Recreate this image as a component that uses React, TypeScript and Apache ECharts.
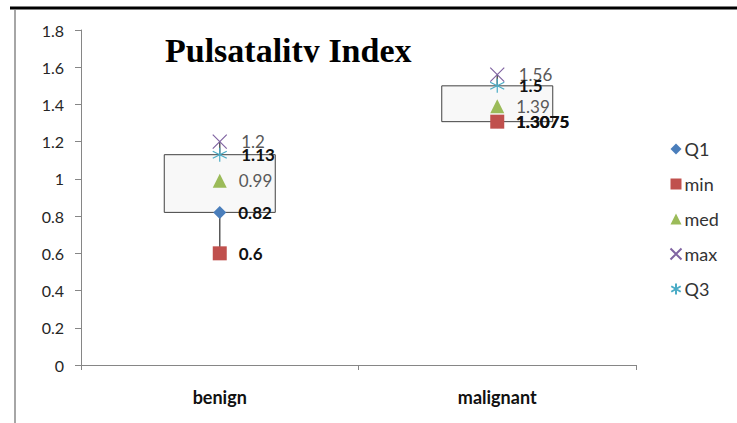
import React, { useEffect, useRef } from "react";
import * as echarts from "echarts";

const categories = ["benign", "malignant"];
const q1Values = [0.82, 1.3075];
const minValues = [0.6, 1.3075];
const medValues = [0.99, 1.39];
const maxValues = [1.2, 1.56];
const q3Values = [1.13, 1.5];
const yTicks = [0, 0.2, 0.4, 0.6, 0.8, 1, 1.2, 1.4, 1.6, 1.8];

const FONT = "Lato, 'Open Sans', sans-serif";

export default function App() {
  const ref = useRef<HTMLDivElement>(null);
  useEffect(() => {
    if (!ref.current) return;
    const chart = echarts.init(ref.current, null, { renderer: "svg" });
    const boldLabel = {
      show: true,
      position: "right",
      distance: 12,
      color: "#111",
      fontWeight: "bold",
      fontSize: 17,
      fontFamily: FONT,
    };
    const grayLabel = {
      show: true,
      position: "right",
      distance: 12,
      color: "#595959",
      fontSize: 17,
      fontFamily: FONT,
    };
    const boxData = categories.map((c, i) => [i, minValues[i], q1Values[i], q3Values[i], maxValues[i]]);
    const option: any = {
      animation: false,
      backgroundColor: "#fff",
      grid: { left: 81, right: 101, top: 30, bottom: 58 },
      legend: {
        orient: "vertical",
        left: 663,
        top: 135,
        itemGap: 17,
        itemWidth: 11,
        itemHeight: 11,
        textStyle: { fontFamily: FONT, fontSize: 18, color: "#333", padding: [0, 0, 0, -2] },
        data: ["Q1", "min", "med", "max", "Q3"],
      },
      graphic: [
        { type: "line", shape: { x1: 10, y1: 8, x2: 737, y2: 8 }, style: { stroke: "#000", lineWidth: 3 } },
        { type: "line", shape: { x1: 15, y1: 10, x2: 15, y2: 423 }, style: { stroke: "#a6a6a6", lineWidth: 2 } },
        {
          type: "text",
          left: 165,
          top: 33,
          style: {
            text: "Pulsatality Index",
            font: "bold 34px 'Liberation Serif', 'Times New Roman', serif",
            fill: "#000",
          },
        },
        {
          type: "rect",
          shape: { x: 160, y: 62.5, width: 260, height: 8 },
          style: { fill: "#fff" },
        },
      ],
      xAxis: {
        type: "category",
        data: categories,
        boundaryGap: true,
        axisLine: { lineStyle: { color: "#868686" } },
        axisTick: { show: true, length: 5, lineStyle: { color: "#868686" } },
        axisLabel: { margin: 23, fontFamily: FONT, fontSize: 18, fontWeight: "bold", color: "#111" },
      },
      yAxis: {
        type: "value",
        min: 0,
        max: 1.8,
        interval: 0.2,
        axisLine: { show: true, lineStyle: { color: "#868686" } },
        axisTick: { show: true, length: 6, lineStyle: { color: "#868686" } },
        splitLine: { show: false },
        axisLabel: {
          margin: 17,
          fontFamily: FONT,
          fontSize: 16,
          color: "#262626",
          formatter: (v: number) => {
            const t = yTicks.find((x) => Math.abs(x - v) < 1e-6);
            return t === undefined ? "" : String(t);
          },
        },
      },
      series: [
        {
          type: "custom",
          name: "box",
          z: 1,
          silent: true,
          data: boxData,
          renderItem: (params: any, api: any) => {
            const idx = api.value(0);
            const pMin = api.coord([idx, api.value(1)]);
            const pQ1 = api.coord([idx, api.value(2)]);
            const pQ3 = api.coord([idx, api.value(3)]);
            const pMax = api.coord([idx, api.value(4)]);
            const w = api.size([1, 0])[0] * 0.4;
            return {
              type: "group",
              children: [
                {
                  type: "line",
                  shape: { x1: pMin[0], y1: pMin[1], x2: pMax[0], y2: pMax[1] },
                  style: { stroke: "#595959", lineWidth: 1.5 },
                },
                {
                  type: "rect",
                  shape: { x: pQ3[0] - w / 2, y: pQ3[1], width: w, height: pQ1[1] - pQ3[1] },
                  style: { fill: "#f8f8f8", stroke: "#404040", lineWidth: 1 },
                },
              ],
            };
          },
        },
        {
          type: "scatter",
          name: "Q1",
          symbol: "diamond",
          symbolSize: 13,
          z: 5,
          itemStyle: { color: "#4a7ebb", opacity: 1 },
          label: boldLabel,
          data: q1Values,
        },
        {
          type: "scatter",
          name: "min",
          symbol: "rect",
          symbolSize: 14,
          z: 6,
          itemStyle: { color: "#c0504d", opacity: 1 },
          label: boldLabel,
          data: minValues,
        },
        {
          type: "scatter",
          name: "med",
          symbol: "triangle",
          symbolSize: 14,
          z: 5,
          itemStyle: { color: "#9bbb59", opacity: 1 },
          label: grayLabel,
          data: medValues,
        },
        {
          type: "scatter",
          name: "max",
          symbol: "path://M0,0L10,10M10,0L0,10",
          symbolSize: 14,
          z: 5,
          itemStyle: { color: "none", borderColor: "#8064a2", borderWidth: 1.2, opacity: 1 },
          label: grayLabel,
          data: maxValues,
        },
        {
          type: "scatter",
          name: "Q3",
          symbol: "path://M5,0L5,10M0.7,2.5L9.3,7.5M0.7,7.5L9.3,2.5",
          symbolSize: 14,
          z: 5,
          itemStyle: { color: "none", borderColor: "#4bacc6", borderWidth: 1.2, opacity: 1 },
          label: boldLabel,
          data: q3Values,
        },
      ],
    };
    chart.setOption(option);
    return () => chart.dispose();
  }, []);
  return (
    <div
      ref={ref}
      style={{ position: "fixed", left: 0, top: 0, width: 737, height: 423 }}
    />
  );
}
